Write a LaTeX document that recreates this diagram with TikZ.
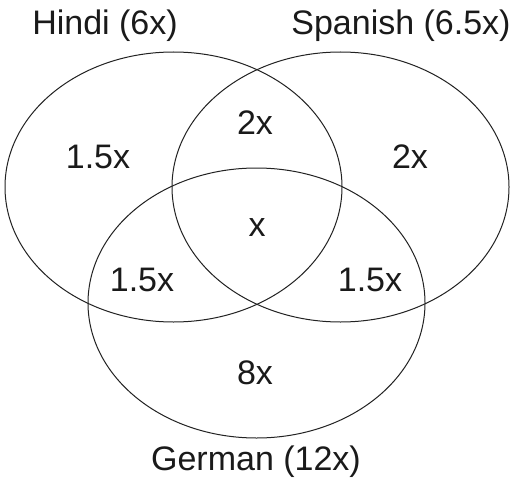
\documentclass[tikz,border=0pt]{standalone}
\usepackage{fontspec}
\setmainfont{Liberation Sans}
\usepackage{xcolor}
\definecolor{vennLine}{HTML}{222222}
\definecolor{vennText}{HTML}{1A1A1A}
\usetikzlibrary{shapes.geometric}

\begin{document}
\begin{tikzpicture}[x=1pt, y=-1pt, font=\fontsize{34}{39}\selectfont, text=vennText]
  \filldraw[fill=white, draw=none] (0,0) rectangle (526,480);
  \node[ellipse, draw=vennLine, line width=1pt, inner sep=0, minimum width=337pt, minimum height=270pt] (hindi) at (173.5,187) {};
  \node[ellipse, draw=vennLine, line width=1pt, inner sep=0, minimum width=337pt, minimum height=270pt] (spanish) at (340.5,187) {};
  \node[ellipse, draw=vennLine, line width=1pt, inner sep=0, minimum width=337pt, minimum height=270pt] (german) at (256.5,303) {};
  \node (hindiLabel) at (105,26) {Hindi (6x)};
  \node (spanishLabel) at (401,26) {Spanish (6.5x)};
  \node (germanLabel) at (256,462) {German (12x)};
  \node (onlyHindi) at (98,157) {1.5x};
  \node (hindiSpanish) at (255,123) {2x};
  \node (onlySpanish) at (410,157) {2x};
  \node (allThree) at (257,228) {x};
  \node (hindiGerman) at (142,280) {1.5x};
  \node (spanishGerman) at (370,280) {1.5x};
  \node (onlyGerman) at (255,373) {8x};
\end{tikzpicture}
\end{document}
